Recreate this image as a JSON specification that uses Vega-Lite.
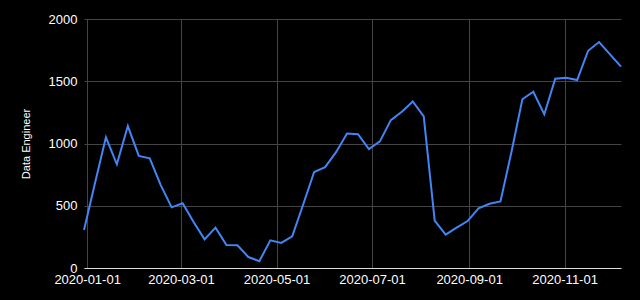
{
  "$schema": "https://vega.github.io/schema/vega-lite/v6.json",
  "autosize": "none",
  "width": 537,
  "height": 249,
  "padding": {"left": 84, "top": 19, "right": 19, "bottom": 32},
  "background": "#000000",
  "config": {
    "view": {"stroke": null},
    "font": "Liberation Sans"
  },
  "data": {
    "values": [
      {"date": "2019-12-30", "value": 305},
      {"date": "2020-01-06", "value": 680},
      {"date": "2020-01-13", "value": 1050},
      {"date": "2020-01-20", "value": 833},
      {"date": "2020-01-27", "value": 1140},
      {"date": "2020-02-03", "value": 900},
      {"date": "2020-02-10", "value": 881},
      {"date": "2020-02-17", "value": 666},
      {"date": "2020-02-24", "value": 487},
      {"date": "2020-03-02", "value": 520},
      {"date": "2020-03-09", "value": 370},
      {"date": "2020-03-16", "value": 230},
      {"date": "2020-03-23", "value": 324},
      {"date": "2020-03-30", "value": 185},
      {"date": "2020-04-06", "value": 182},
      {"date": "2020-04-13", "value": 88},
      {"date": "2020-04-20", "value": 55},
      {"date": "2020-04-27", "value": 222},
      {"date": "2020-05-04", "value": 201},
      {"date": "2020-05-11", "value": 254},
      {"date": "2020-05-18", "value": 510},
      {"date": "2020-05-25", "value": 771},
      {"date": "2020-06-01", "value": 810},
      {"date": "2020-06-08", "value": 930},
      {"date": "2020-06-15", "value": 1081},
      {"date": "2020-06-22", "value": 1075},
      {"date": "2020-06-29", "value": 955},
      {"date": "2020-07-06", "value": 1017},
      {"date": "2020-07-13", "value": 1188},
      {"date": "2020-07-20", "value": 1255},
      {"date": "2020-07-27", "value": 1338},
      {"date": "2020-08-03", "value": 1218},
      {"date": "2020-08-10", "value": 380},
      {"date": "2020-08-17", "value": 268},
      {"date": "2020-08-24", "value": 324},
      {"date": "2020-08-31", "value": 377},
      {"date": "2020-09-07", "value": 479},
      {"date": "2020-09-14", "value": 516},
      {"date": "2020-09-21", "value": 535},
      {"date": "2020-09-28", "value": 930},
      {"date": "2020-10-05", "value": 1355},
      {"date": "2020-10-12", "value": 1416},
      {"date": "2020-10-19", "value": 1234},
      {"date": "2020-10-26", "value": 1520},
      {"date": "2020-11-02", "value": 1528},
      {"date": "2020-11-09", "value": 1510},
      {"date": "2020-11-16", "value": 1745},
      {"date": "2020-11-23", "value": 1815},
      {"date": "2020-11-30", "value": 1716},
      {"date": "2020-12-07", "value": 1617}
    ]
  },
  "mark": {"type": "line", "color": "#4285f4", "strokeWidth": 2, "clip": false},
  "encoding": {
    "x": {
      "field": "date",
      "type": "temporal",
      "scale": {"type": "utc"},
      "axis": {
        "title": null,
        "labelExpr": "utcFormat(datum.value, '%Y-%m-%d')",
        "values": [
          {"year": 2020, "month": 1, "date": 1, "utc": true},
          {"year": 2020, "month": 3, "date": 1, "utc": true},
          {"year": 2020, "month": 5, "date": 1, "utc": true},
          {"year": 2020, "month": 7, "date": 1, "utc": true},
          {"year": 2020, "month": 9, "date": 1, "utc": true},
          {"year": 2020, "month": 11, "date": 1, "utc": true}
        ],
        "ticks": false,
        "labelPadding": 5,
        "labelFontSize": 13,
        "labelColor": "#ffffff",
        "labelFont": "Liberation Sans",
        "domainColor": "#dddddd",
        "domainWidth": 1,
        "gridColor": "#444444",
        "gridWidth": 1,
        "labelFlush": false,
        "labelOverlap": false
      }
    },
    "y": {
      "field": "value",
      "type": "quantitative",
      "scale": {"domain": [0, 2000], "nice": false},
      "axis": {
        "title": "Data Engineer",
        "format": "d",
        "values": [0, 500, 1000, 1500, 2000],
        "ticks": false,
        "domain": false,
        "labelPadding": 7,
        "labelFontSize": 13,
        "labelColor": "#ffffff",
        "labelFont": "Liberation Sans",
        "titleColor": "#ffffff",
        "titleFont": "Liberation Sans",
        "titleFontSize": 11,
        "titleFontWeight": "normal",
        "titlePadding": 17,
        "gridColor": "#444444",
        "gridWidth": 1
      }
    }
  }
}
